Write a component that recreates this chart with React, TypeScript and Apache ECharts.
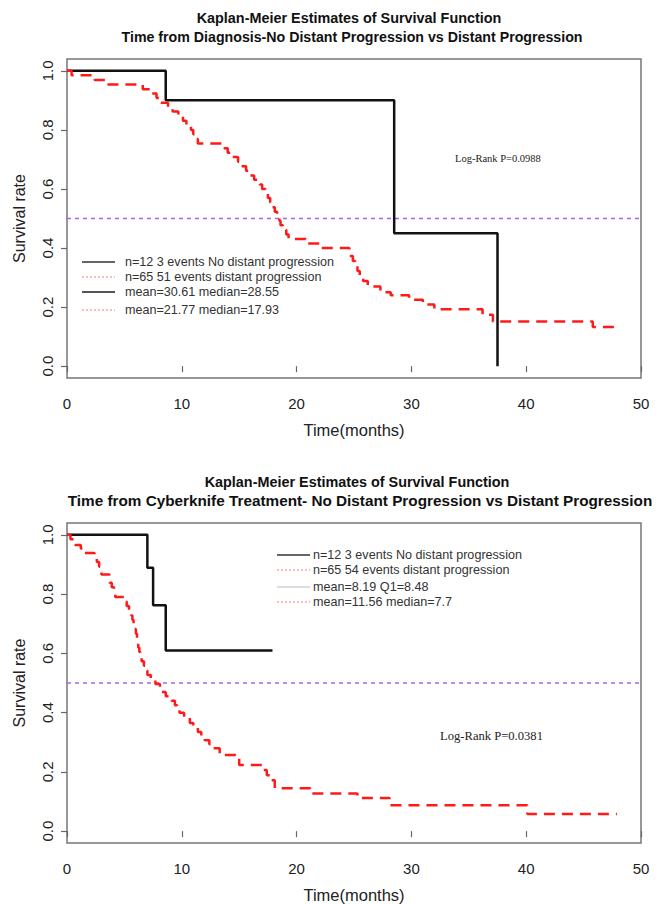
import React, { useEffect, useRef } from "react";
import * as echarts from "echarts";

// Time from diagnosis: Kaplan-Meier step points (months, survival)
const diagNoDistT = [0, 8.6, 28.5, 37.5];
const diagNoDistS = [1.0, 0.9, 0.45, 0.0];
const diagDistT = [0, 0.4, 2.4, 3.4, 6.6, 7.3, 7.8, 8.2, 8.8, 9.2, 9.7, 10.1, 10.4, 10.8, 11.0, 11.2, 11.4, 13.6, 14.0, 14.4, 14.9, 15.2, 15.6, 15.9, 16.3, 16.8, 17.0, 17.3, 17.5, 17.7, 17.9, 18.1, 18.3, 18.5, 18.6, 18.8, 19.1, 19.3, 20.8, 22.0, 24.6, 24.9, 25.1, 25.3, 25.5, 25.8, 26.2, 27.3, 28.2, 29.8, 31.0, 32.0, 36.2, 37.1, 45.8, 48.2];
const diagDistS = [1.0, 0.985, 0.969, 0.954, 0.938, 0.923, 0.908, 0.892, 0.877, 0.862, 0.846, 0.831, 0.815, 0.8, 0.785, 0.769, 0.754, 0.738, 0.723, 0.708, 0.692, 0.677, 0.662, 0.646, 0.631, 0.615, 0.6, 0.585, 0.569, 0.554, 0.538, 0.523, 0.508, 0.492, 0.477, 0.462, 0.446, 0.431, 0.415, 0.4, 0.373, 0.356, 0.339, 0.322, 0.305, 0.288, 0.27, 0.25, 0.24, 0.225, 0.209, 0.193, 0.174, 0.151, 0.133, 0.133];

// Time from Cyberknife treatment
const ckNoDistT = [0, 7.0, 7.5, 8.6, 17.9];
const ckNoDistS = [1.0, 0.889, 0.762, 0.61, 0.61];
const ckDistT = [0, 0.3, 0.7, 1.2, 1.4, 2.4, 2.6, 2.8, 3.0, 3.7, 3.9, 4.1, 4.2, 5.0, 5.2, 5.4, 5.6, 5.7, 5.8, 5.9, 6.0, 6.1, 6.2, 6.3, 6.4, 6.5, 6.7, 6.9, 7.0, 7.3, 7.7, 8.1, 8.6, 9.1, 9.4, 9.6, 9.8, 10.2, 10.7, 11.0, 11.4, 11.7, 12.0, 12.4, 12.7, 13.3, 15.0, 17.0, 17.4, 17.7, 18.1, 21.2, 25.3, 28.1, 40.1, 47.9];
const ckDistS = [1.0, 0.985, 0.966, 0.954, 0.939, 0.923, 0.908, 0.892, 0.866, 0.838, 0.823, 0.807, 0.79, 0.775, 0.76, 0.744, 0.728, 0.713, 0.697, 0.682, 0.666, 0.651, 0.62, 0.605, 0.589, 0.573, 0.558, 0.542, 0.527, 0.512, 0.497, 0.47, 0.455, 0.44, 0.425, 0.41, 0.4, 0.382, 0.365, 0.35, 0.335, 0.321, 0.307, 0.293, 0.28, 0.257, 0.223, 0.206, 0.189, 0.172, 0.145, 0.127, 0.112, 0.087, 0.058, 0.058];

const medianRef = 0.5;
const yTicks = [0, 0.2, 0.4, 0.6, 0.8, 1.0];

const titleLine1 = "Kaplan-Meier Estimates of Survival Function";
const topTitleLine2 = "Time from Diagnosis-No Distant Progression vs Distant Progression";
const botTitleLine2 = "Time from Cyberknife Treatment- No Distant Progression vs Distant Progression";
const topLegend = [
  "n=12 3 events No distant progression",
  "n=65 51 events distant progression",
  "mean=30.61 median=28.55",
  "mean=21.77 median=17.93",
];
const botLegend = [
  "n=12 3 events No distant progression",
  "n=65 54 events distant progression",
  "mean=8.19 Q1=8.48",
  "mean=11.56 median=7.7",
];
const topP = "Log-Rank P=0.0988";
const botP = "Log-Rank P=0.0381";

const zip = (t: number[], s: number[]) => t.map((v, i) => [v, s[i]]);

const SANS = "Liberation Sans, Arial, sans-serif";
const SERIF = "Liberation Serif, Times New Roman, serif";

export default function App() {
  const ref = useRef<HTMLDivElement>(null);

  useEffect(() => {
    document.body.style.margin = "0";
    const chart = echarts.init(ref.current!, null, { renderer: "svg" });

    const xAxis = (gridIndex: number) => ({
      type: "value",
      gridIndex,
      min: 0,
      max: 50,
      interval: 10,
      axisLine: { show: false },
      axisTick: { show: true, length: 6, lineStyle: { color: "#666", width: 1.2 } },
      axisLabel: { margin: 18, fontSize: 15, color: "#222", fontFamily: SANS },
      splitLine: { show: false },
      name: "Time(months)",
      nameLocation: "middle",
      nameGap: 43,
      nameTextStyle: { fontSize: 16.5, color: "#222", fontFamily: SANS },
    });
    const yAxis = (gridIndex: number) => ({
      type: "value",
      gridIndex,
      min: -0.04,
      max: 1.04,
      axisLine: { show: false },
      axisTick: { show: true, length: 6, customValues: yTicks, lineStyle: { color: "#666", width: 1.2 } },
      axisLabel: {
        customValues: yTicks,
        rotate: 90,
        margin: 12,
        fontSize: 15,
        color: "#222",
        fontFamily: SANS,
        formatter: (v: number) => v.toFixed(1),
      },
      splitLine: { show: false },
      name: "Survival rate",
      nameLocation: "middle",
      nameRotate: 90,
      nameGap: 40,
      nameTextStyle: { fontSize: 16, color: "#222", fontFamily: SANS },
    });

    const line = (idx: number, data: number[][], color: string, width: number, type: any) => ({
      type: "line",
      xAxisIndex: idx,
      yAxisIndex: idx,
      data,
      step: "end",
      symbol: "none",
      lineStyle: { color, width, type },
      z: 3,
    });
    const refLine = (idx: number) => ({
      type: "line",
      xAxisIndex: idx,
      yAxisIndex: idx,
      data: [[0, medianRef], [50, medianRef]],
      symbol: "none",
      lineStyle: { color: "#a764f2", width: 1.6, type: [4, 4] },
      z: 2,
    });

    const legendBlock = (
      x: number,
      textX: number,
      y0: number,
      dy: number[],
      texts: string[],
      row3Color: string,
      row3Width: number
    ) => {
      const styles = [
        { stroke: "#333", lineWidth: 1.5, lineDash: null },
        { stroke: "#ff7a7a", lineWidth: 1.2, lineDash: [2, 2] },
        { stroke: row3Color, lineWidth: row3Width, lineDash: null },
        { stroke: "#ff7a7a", lineWidth: 1.2, lineDash: [2, 2] },
      ];
      const out: any[] = [];
      texts.forEach((t, i) => {
        const y = y0 + dy[i];
        out.push({
          type: "line",
          shape: { x1: x, y1: y, x2: x + 33, y2: y },
          style: styles[i],
        });
        out.push({
          type: "text",
          x: textX,
          y,
          style: { text: t, fontSize: 12.6, fill: "#333", fontFamily: SANS, textVerticalAlign: "middle" },
        });
      });
      return out;
    };

    const titleText = (x: number, y: number, text: string, size: number) => ({
      type: "text",
      x,
      y,
      style: {
        text,
        fontSize: size,
        fontWeight: "bold",
        fill: "#111",
        fontFamily: SANS,
        textAlign: "center",
        textVerticalAlign: "middle",
      },
    });

    chart.setOption({
      animation: false,
      backgroundColor: "#fff",
      grid: [
        { left: 67, top: 59, width: 574, height: 319, show: true, borderColor: "#777", borderWidth: 1.5, backgroundColor: "transparent" },
        { left: 67, top: 523, width: 574, height: 320, show: true, borderColor: "#777", borderWidth: 1.5, backgroundColor: "transparent" },
      ],
      xAxis: [xAxis(0), xAxis(1)],
      yAxis: [yAxis(0), yAxis(1)],
      series: [
        refLine(0),
        line(0, zip(diagNoDistT, diagNoDistS), "#111", 2.5, "solid"),
        line(0, zip(diagDistT, diagDistS), "#ff1a1a", 2.5, [11, 7]),
        refLine(1),
        line(1, zip(ckNoDistT, ckNoDistS), "#111", 2.5, "solid"),
        line(1, zip(ckDistT, ckDistS), "#ff1a1a", 2.5, [11, 7]),
      ],
      graphic: [
        titleText(349, 18, titleLine1, 14.4),
        titleText(352, 37, topTitleLine2, 14.2),
        titleText(357, 482, titleLine1, 14.4),
        titleText(360, 500, botTitleLine2, 15.3),
        ...legendBlock(82, 125, 262, [0, 15, 30, 48], topLegend, "#555", 2),
        ...legendBlock(277, 313, 555, [0, 15, 32, 47], botLegend, "#bbb", 1.2),
        {
          type: "text",
          x: 455,
          y: 158,
          style: { text: topP, fontSize: 10.5, fill: "#222", fontFamily: SERIF, textVerticalAlign: "middle" },
        },
        {
          type: "text",
          x: 440,
          y: 736,
          style: { text: botP, fontSize: 12.6, fill: "#222", fontFamily: SERIF, textVerticalAlign: "middle" },
        },
      ],
    });

    return () => chart.dispose();
  }, []);

  return <div ref={ref} style={{ width: 665, height: 904 }} />;
}
